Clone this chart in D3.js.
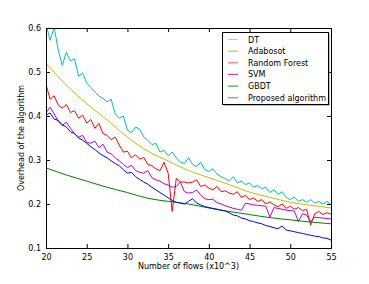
<!DOCTYPE html>
<html>
<head>
<meta charset="utf-8">
<script src="https://cdn.jsdelivr.net/npm/d3@7"></script>
<style>
  html, body { margin: 0; padding: 0; background: #fff; }
  svg { display: block; }
  text { font-family: "DejaVu Sans", sans-serif; }
</style>
</head>
<body>
<div id="chart"></div>
<script>
(function () {
  'use strict';

  // x positions: number of flows (x10^3), sampled every 0.5
  var flows = d3.range(20, 55.01, 0.5);

  var dt = [
    0.610, 0.572, 0.602, 0.550, 0.515, 0.545, 0.525, 0.530, 0.490, 0.498,
    0.475, 0.465, 0.455, 0.445, 0.440, 0.432, 0.438, 0.405, 0.395, 0.400,
    0.368, 0.362, 0.375, 0.370, 0.352, 0.345, 0.335, 0.338, 0.318, 0.322,
    0.310, 0.318, 0.305, 0.295, 0.292, 0.305, 0.290, 0.285, 0.295, 0.278,
    0.274, 0.280, 0.268, 0.262, 0.258, 0.252, 0.262, 0.248, 0.252, 0.244,
    0.248, 0.238, 0.242, 0.235, 0.238, 0.226, 0.232, 0.222, 0.228, 0.215,
    0.210, 0.216, 0.206, 0.210, 0.204, 0.210, 0.202, 0.206, 0.200, 0.206,
    0.198
  ];

  var randomForest = [
    0.472, 0.438, 0.446, 0.425, 0.418, 0.426, 0.408, 0.412, 0.395, 0.402,
    0.384, 0.392, 0.372, 0.383, 0.360, 0.356, 0.346, 0.352, 0.334, 0.318,
    0.320, 0.305, 0.312, 0.302, 0.306, 0.290, 0.287, 0.280, 0.276, 0.295,
    0.270, 0.183, 0.258, 0.250, 0.250, 0.248, 0.250, 0.255, 0.240, 0.243,
    0.236, 0.232, 0.240, 0.228, 0.230, 0.225, 0.222, 0.228, 0.215, 0.220,
    0.210, 0.214, 0.206, 0.210, 0.200, 0.205, 0.198, 0.194, 0.200, 0.190,
    0.195, 0.188, 0.192, 0.185, 0.188, 0.152, 0.178, 0.183, 0.176, 0.180,
    0.177
  ];

  var svm = [
    0.407, 0.420, 0.405, 0.388, 0.378, 0.386, 0.372, 0.360, 0.352, 0.356,
    0.340, 0.338, 0.343, 0.328, 0.336, 0.318, 0.314, 0.305, 0.298, 0.290,
    0.283, 0.288, 0.276, 0.272, 0.270, 0.276, 0.260, 0.255, 0.252, 0.246,
    0.243, 0.238, 0.240, 0.250, 0.228, 0.225, 0.226, 0.232, 0.220, 0.212,
    0.210, 0.211, 0.203, 0.200, 0.196, 0.193, 0.190, 0.188, 0.186, 0.202,
    0.200, 0.198, 0.197, 0.196, 0.195, 0.170, 0.192, 0.190, 0.188, 0.186,
    0.185, 0.184, 0.160, 0.178, 0.175, 0.160, 0.170, 0.169, 0.168, 0.167,
    0.166
  ];

  var proposed = [
    0.402, 0.407, 0.393, 0.390, 0.380, 0.375, 0.364, 0.360, 0.350, 0.345,
    0.338, 0.330, 0.324, 0.316, 0.310, 0.305, 0.298, 0.292, 0.287, 0.278,
    0.270, 0.272, 0.262, 0.256, 0.250, 0.245, 0.238, 0.232, 0.226, 0.220,
    0.214, 0.208, 0.204, 0.202, 0.200, 0.206, 0.212, 0.202, 0.198, 0.194,
    0.192, 0.190, 0.188, 0.186, 0.184, 0.180, 0.175, 0.173, 0.168, 0.166,
    0.162, 0.160, 0.157, 0.155, 0.151, 0.149, 0.146, 0.144, 0.150, 0.141,
    0.139, 0.137, 0.135, 0.133, 0.131, 0.129, 0.127, 0.126, 0.123, 0.122,
    0.118
  ];

  // smooth curves, read at every 2.5
  var smoothFlows = [20, 22.5, 25, 27.5, 30, 32.5, 35, 37.5, 40, 42.5, 45, 47.5, 50, 52.5, 55];
  var adaboost = [0.520, 0.470, 0.428, 0.391, 0.352, 0.320, 0.298, 0.276, 0.260, 0.244, 0.227, 0.215, 0.204, 0.197, 0.191];
  var gbdt     = [0.282, 0.266, 0.252, 0.238, 0.226, 0.213, 0.206, 0.200, 0.191, 0.183, 0.176, 0.169, 0.164, 0.159, 0.155];

  var xTicks = [20, 25, 30, 35, 40, 45, 50, 55];
  var yTicks = [0.1, 0.2, 0.3, 0.4, 0.5, 0.6];

  var series = [
    { name: 'DT',                 xs: flows,       ys: dt,           color: '#00bfbf', key: '#80dfdf' },
    { name: 'Adabosot',           xs: smoothFlows, ys: adaboost,     color: '#bfbf00', key: '#c8c820' },
    { name: 'Random Forest',      xs: flows,       ys: randomForest, color: '#ff0000', key: '#ff7070' },
    { name: 'SVM',                xs: flows,       ys: svm,          color: '#bf00bf', key: '#c040c0' },
    { name: 'GBDT',               xs: smoothFlows, ys: gbdt,         color: '#008000', key: '#40a040' },
    { name: 'Proposed algorithm', xs: flows,       ys: proposed,     color: '#0000ff', key: '#8080ff' }
  ];

  var W  = 369, H = 284;
  var mg = { top: 28, right: 38, bottom: 36, left: 46 };
  var w  = W - mg.left - mg.right;
  var h  = H - mg.top - mg.bottom;

  var svg = d3.select('#chart').append('svg')
    .attr('width', W).attr('height', H);

  svg.append('defs').append('clipPath').attr('id', 'plotclip')
    .append('rect').attr('width', w).attr('height', h);

  var g = svg.append('g')
    .attr('transform', 'translate(' + mg.left + ',' + mg.top + ')');

  var x = d3.scaleLinear().domain([20, 55]).range([0, w]);
  var y = d3.scaleLinear().domain([0.1, 0.6]).range([h, 0]);

  // Lines
  var lines = g.append('g').attr('clip-path', 'url(#plotclip)');
  series.forEach(function (s) {
    var pts = s.xs.map(function (v, i) { return [v, s.ys[i]]; });
    var line = d3.line()
      .x(function (p) { return x(p[0]); })
      .y(function (p) { return y(p[1]); });
    if (s.xs === smoothFlows) line.curve(d3.curveMonotoneX);
    lines.append('path')
      .datum(pts)
      .attr('fill', 'none')
      .attr('stroke', s.color)
      .attr('stroke-width', 1)
      .attr('stroke-linejoin', 'round')
      .attr('d', line);
  });

  // Axes: ticks point inward on all four sides
  var fs = 8;
  g.append('g')
    .attr('transform', 'translate(0,' + h + ')')
    .call(d3.axisBottom(x).tickValues(xTicks).tickSize(-4).tickPadding(6).tickFormat(d3.format('d')))
    .call(function (ax) {
      ax.select('.domain').remove();
      ax.selectAll('text').attr('font-size', fs).attr('fill', '#000').attr('font-family', 'DejaVu Sans');
    });
  g.append('g')
    .call(d3.axisTop(x).tickValues(xTicks).tickSize(-4).tickFormat(''))
    .call(function (ax) { ax.select('.domain').remove(); });

  g.append('g')
    .call(d3.axisLeft(y).tickValues(yTicks).tickSize(-4).tickPadding(5).tickFormat(d3.format('.1f')))
    .call(function (ax) {
      ax.select('.domain').remove();
      ax.selectAll('text').attr('font-size', fs).attr('fill', '#000').attr('font-family', 'DejaVu Sans');
    });
  g.append('g')
    .attr('transform', 'translate(' + w + ',0)')
    .call(d3.axisRight(y).tickValues(yTicks).tickSize(-4).tickFormat(''))
    .call(function (ax) { ax.select('.domain').remove(); });

  // Frame
  g.append('rect')
    .attr('x', 0.5).attr('y', 0.5)
    .attr('width', w).attr('height', h)
    .attr('fill', 'none').attr('stroke', '#000').attr('stroke-width', 1);

  // Axis labels
  svg.append('text')
    .attr('x', mg.left + w / 2).attr('y', 269)
    .attr('text-anchor', 'middle').attr('font-size', fs)
    .text('Number of flows (x10^3)');

  svg.append('text')
    .attr('transform', 'translate(24,' + (mg.top + h / 2) + ') rotate(-90)')
    .attr('text-anchor', 'middle').attr('font-size', fs)
    .text('Overhead of the algorithm');

  // Legend
  var lg = svg.append('g').attr('transform', 'translate(222,32)');
  lg.append('rect')
    .attr('x', 1.5).attr('y', 1.5).attr('width', 106).attr('height', 72)
    .attr('fill', '#777');
  lg.append('rect')
    .attr('x', 0.5).attr('y', 0.5).attr('width', 106).attr('height', 72)
    .attr('fill', '#fff').attr('stroke', '#000').attr('stroke-width', 1);

  series.forEach(function (s, i) {
    var ry = 7.5 + i * 11.65;
    lg.append('line')
      .attr('x1', 6).attr('x2', 16)
      .attr('y1', ry).attr('y2', ry)
      .attr('stroke', s.key).attr('stroke-width', 1.2);
    lg.append('text')
      .attr('x', 26).attr('y', ry + 3)
      .attr('font-size', fs)
      .text(s.name);
  });
}());
</script>
</body>
</html>
